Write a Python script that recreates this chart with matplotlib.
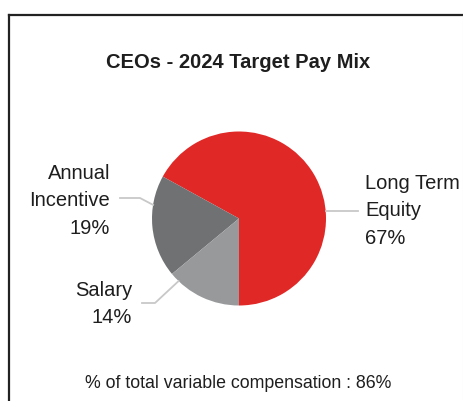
import numpy as np
import matplotlib.pyplot as plt

plt.rcParams['font.family'] = ['Liberation Sans', 'DejaVu Sans']

# data
categories = ["Long Term\nEquity", "Annual\nIncentive", "Salary"]
values = [67, 19, 14]
colors = ["#E02826", "#707173", "#97999B"]
title = "CEOs - 2024 Target Pay Mix"
footnote = "% of total variable compensation : 86%"

W, H = 464, 401
fig = plt.figure(figsize=(W / 100, H / 100), dpi=100)
ax = fig.add_axes([0, 0, 1, 1])

# frame (top/left edges visible, right faint)
ax.plot([9, 9], [0, H - 15], color="#222222", lw=1.6, solid_capstyle="projecting")
ax.plot([9, W], [H - 15, H - 15], color="#222222", lw=1.6, solid_capstyle="projecting")
ax.plot([463, 463], [0, H - 15], color="#E6E6E6", lw=0.8)

cx, cy, r = 239, H - 218.5, 87
ax.pie(values, colors=colors, startangle=270, counterclock=True,
       center=(cx, cy), radius=r, frame=True,
       wedgeprops=dict(linewidth=0))
ax.set_xlim(0, W)
ax.set_ylim(0, H)
ax.axis("off")

# label layout: (angle on rim in deg, elbow x, end x, text x, text y, ha, line y)
layout = [
    (5, None, 358, 365, H - 211, "left", None),
    (171, 140, 120, 110, H - 201, "right", H - 198),
    (226, 155, 142, 132, H - 304, "right", H - 303),
]
for (cat, v, (ang, ex, endx, tx, ty, ha, ly)) in zip(categories, values, layout):
    a = np.deg2rad(ang)
    px, py = cx + r * np.cos(a), cy + r * np.sin(a)
    if ex is None:
        xs, ys = [px, endx], [py, py]
    else:
        xs, ys = [px, ex, endx], [py, ly, ly]
    ax.plot(xs, ys, color="#C8C8C8", lw=1.3)
    ax.text(tx, ty, f"{cat}\n{v}%", ha=ha, va="center", fontsize=14.5,
            color="#1E1E1E", linespacing=1.55)

ax.text(238, H - 62, title, ha="center", va="center", fontsize=14.5,
        fontweight="bold", color="#1E1E1E")
ax.text(238, H - 383, footnote, ha="center", va="center", fontsize=12.8,
        color="#1E1E1E")

fig.savefig("out.png", dpi=100, facecolor="white")
